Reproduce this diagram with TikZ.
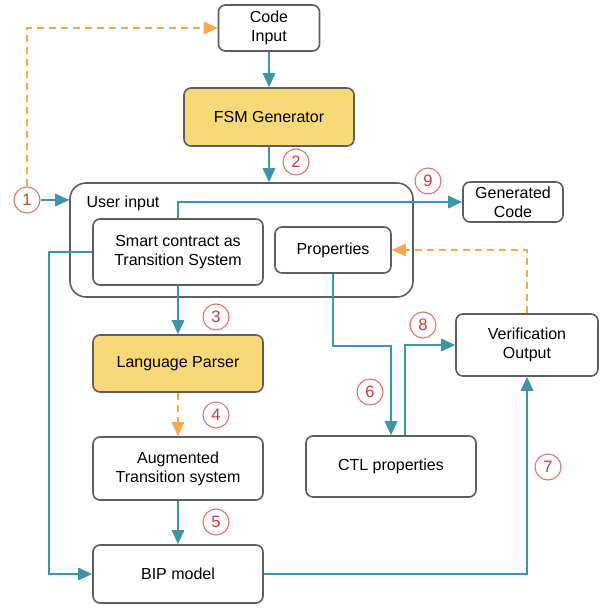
\documentclass[tikz,border=0pt]{standalone}
\usepackage{fontspec}
\setmainfont{Liberation Sans}
\usetikzlibrary{arrows.meta}
\definecolor{flowteal}{HTML}{3D96A6}
\definecolor{fborange}{HTML}{F5A94A}
\definecolor{toolyellow}{HTML}{F8D877}
\definecolor{boxgray}{HTML}{5E5E5E}
\definecolor{numred}{HTML}{D03A36}
\begin{document}
\begin{tikzpicture}[x=1pt,y=-1pt,
  >={Triangle[length=14pt,width=12.5pt]},
  box/.style={draw=boxgray,line width=1.6pt,rounded corners=7pt,fill=white,align=center,inner sep=2pt,font=\fontsize{16}{19}\selectfont},
  tool/.style={box,fill=toolyellow},
  flow/.style={->,draw=flowteal,line width=1.6pt},
  back/.style={->,draw=fborange,line width=1.6pt,dash pattern=on 7pt off 5pt},
  num/.style={circle,draw=numred!70,line width=1.1pt,text=numred,minimum size=26pt,inner sep=0pt,font=\fontsize{16.5}{16.5}\selectfont}]
  \useasboundingbox (0,0) rectangle (605,608);

  \node[box,minimum width=101pt,minimum height=46pt] (code) at (269,28) {Code\\Input};
  \node[tool,minimum width=170pt,minimum height=58pt] (fsm) at (269,117) {FSM Generator};
  \node[box,rounded corners=16pt,minimum width=343pt,minimum height=114pt] (user) at (241.5,240) {};
  \node[anchor=west,font=\fontsize{16}{19}\selectfont] (userlbl) at (83,203) {User input};
  \node[box,minimum width=170pt,minimum height=66pt] (smart) at (178,252) {Smart contract as\\Transition System};
  \node[box,minimum width=116pt,minimum height=46pt] (props) at (333,250) {Properties};
  \node[box,minimum width=100pt,minimum height=40pt] (gen) at (513,202) {Generated\\Code};
  \node[tool,minimum width=170pt,minimum height=57pt] (parser) at (178,363.5) {Language Parser};
  \node[box,minimum width=170pt,minimum height=63pt] (aug) at (178,468.5) {Augmented\\Transition system};
  \node[box,minimum width=170pt,minimum height=58pt] (bip) at (178,574) {BIP model};
  \node[box,minimum width=170pt,minimum height=61pt] (ctl) at (391,466.5) {CTL properties};
  \node[box,minimum width=142pt,minimum height=62pt] (verif) at (527,345) {Verification\\Output};

  \node[num] (n1) at (27,200) {1};
  \node[num] (n2) at (296,162) {2};
  \node[num] (n3) at (216,317) {3};
  \node[num] (n4) at (216,415) {4};
  \node[num] (n5) at (216,522) {5};
  \node[num] (n6) at (370,392) {6};
  \node[num] (n7) at (548,467) {7};
  \node[num] (n8) at (423,325) {8};
  \node[num] (n9) at (428,181) {9};

  \coordinate (bend6) at (360,346);
  \coordinate (left1) at (49,252);

  \draw[back] (n1.north) |- (code.west);
  \draw[flow] (n1.east) -- (n1.east -| user.west);
  \draw[flow] (code.south) -- (code.south |- fsm.north);
  \draw[flow] (fsm.south) -- (fsm.south |- user.north);
  \draw[flow] (smart.north) |- (gen.west);
  \draw[flow] (smart.west) -- (left1) |- (bip.west);
  \draw[flow] (smart.south) -- (parser.north);
  \draw[back] (parser.south) -- (aug.north);
  \draw[flow] (aug.south) -- (bip.north);
  \draw[flow] (props.south) |- (bend6) -| (ctl.north);
  \draw[flow] ([xshift=14pt]ctl.north) |- (verif.west);
  \draw[flow] (bip.east) -| (verif.south);
  \draw[back] (verif.north) |- (props.east);
\end{tikzpicture}
\end{document}
